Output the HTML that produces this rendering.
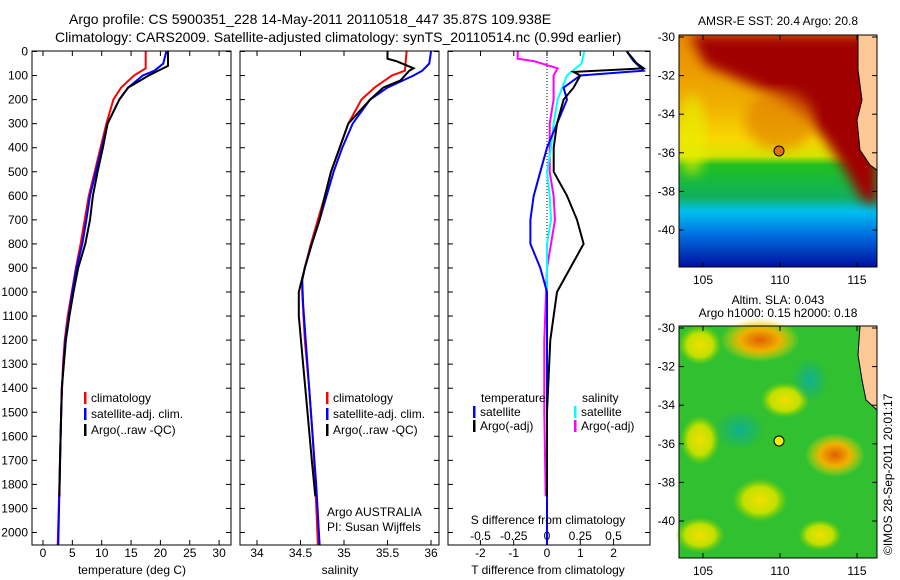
<!DOCTYPE html>
<html><head><meta charset="utf-8">
<style>
body{margin:0;background:#fff;}
svg{display:block;font-family:"Liberation Sans",sans-serif;}
</style></head>
<body>
<svg id="c" width="900" height="580" viewBox="0 0 900 580" xmlns="http://www.w3.org/2000/svg">
<defs>
<linearGradient id="sstG" x1="0" y1="0" x2="0" y2="1">
<stop offset="0" stop-color="#e88800"/><stop offset="0.3" stop-color="#f0b000"/><stop offset="0.45" stop-color="#f8d800"/>
<stop offset="0.52" stop-color="#d8e400"/><stop offset="0.56" stop-color="#20c020"/><stop offset="0.7" stop-color="#10b060"/>
<stop offset="0.76" stop-color="#00c0f0"/><stop offset="0.86" stop-color="#0070e0"/><stop offset="1" stop-color="#0010a0"/>
</linearGradient>
<radialGradient id="oG"><stop offset="0" stop-color="#e06000"/><stop offset="0.5" stop-color="#f0b000"/><stop offset="1" stop-color="#f0e000" stop-opacity="0"/></radialGradient>
<radialGradient id="yG"><stop offset="0" stop-color="#f0e000"/><stop offset="0.6" stop-color="#c0e000"/><stop offset="1" stop-color="#80d000" stop-opacity="0"/></radialGradient>
<radialGradient id="cG"><stop offset="0" stop-color="#10b090"/><stop offset="1" stop-color="#10b090" stop-opacity="0"/></radialGradient>
<filter id="bl"><feGaussianBlur stdDeviation="6"/></filter>
<clipPath id="clipTop"><rect x="679" y="35" width="198" height="232"/></clipPath>
</defs>
<g id="titles" font-size="14">
<text x="69" y="24">Argo profile: CS 5900351_228 14-May-2011 20110518_447 35.87S 109.938E</text>
<text x="55" y="42">Climatology: CARS2009. Satellite-adjusted climatology: synTS_20110514.nc (0.99d earlier)</text>
</g>
<g id="plots"></g>
<g id="maps">
<text x="778" y="25" font-size="12" text-anchor="middle">AMSR-E SST: 20.4  Argo: 20.8</text>
<g>
<rect x="679" y="35" width="198" height="232" fill="url(#sstG)"/>
<g clip-path="url(#clipTop)">
<ellipse cx="692" cy="135" rx="14" ry="40" fill="#e8f000" opacity="0.7" filter="url(#bl)"/>
<polygon points="690,35 877,35 877,205 862,200 845,170 825,140 805,115 775,95 740,80 705,65" fill="#a00000" filter="url(#bl)"/>
<ellipse cx="780" cy="120" rx="35" ry="30" fill="#e07800" opacity="0.6" filter="url(#bl)"/>
</g>
<polygon points="858,35 877,35 877,170 870,165 860,150 857,120 862,100 858,70" fill="#fcc896" stroke="#000" stroke-width="1"/>
<circle cx="779" cy="151" r="5" fill="#e07000" stroke="#000"/>
<rect x="679" y="35" width="198" height="232" fill="none" stroke="#000"/>
</g>
<text x="778" y="304" font-size="12" text-anchor="middle">Altim. SLA: 0.043</text>
<text x="778" y="317" font-size="12" text-anchor="middle">Argo h1000: 0.15 h2000: 0.18</text>
<g>
<rect x="679" y="326" width="198" height="232" fill="#30c030"/>
<ellipse cx="760" cy="340" rx="40" ry="22" fill="url(#oG)"/>
<ellipse cx="700" cy="345" rx="22" ry="20" fill="url(#yG)"/>
<ellipse cx="835" cy="455" rx="30" ry="22" fill="url(#oG)"/>
<ellipse cx="785" cy="400" rx="25" ry="18" fill="url(#yG)"/>
<ellipse cx="700" cy="440" rx="20" ry="25" fill="url(#yG)"/>
<ellipse cx="760" cy="500" rx="28" ry="22" fill="url(#yG)"/>
<ellipse cx="700" cy="535" rx="25" ry="18" fill="url(#yG)"/>
<ellipse cx="820" cy="535" rx="22" ry="16" fill="url(#yG)"/>
<ellipse cx="740" cy="430" rx="25" ry="20" fill="url(#cG)"/>
<ellipse cx="810" cy="380" rx="18" ry="22" fill="url(#cG)"/>
<polygon points="860,326 877,326 877,410 866,400 862,380 858,355" fill="#fcc896" stroke="#000"/>
<circle cx="779" cy="441" r="5" fill="#f0f000" stroke="#000"/>
<rect x="679" y="326" width="198" height="232" fill="none" stroke="#000"/>
</g>
<text transform="translate(892,555) rotate(-90)" font-size="12">©IMOS 28-Sep-2011 20:01:17</text>
</g>
</svg>
<script>
const NS='http://www.w3.org/2000/svg';
const depthTicks=[0,100,200,300,400,500,600,700,800,900,1000,1100,1200,1300,1400,1500,1600,1700,1800,1900,2000];
const tempTicks=[0,5,10,15,20,25,30];
const salTicks=[34,34.5,35,35.5,36];
const tdiffTicks=[-2,-1,0,1,2];
const sdiffTicks=[-0.5,-0.25,0,0.25,0.5];
const sdiffLabels=['-0.5','-0.25','0','0.25','0.5'];
const depthsT=[0,70,100,150,200,300,400,500,600,700,800,900,1000,1100,1200,1300,1500,1800,2050];
const tempClim=[17.5,17.5,15.5,13.3,12,10.8,9.8,8.8,7.8,7.1,6.4,5.6,4.9,4.2,3.7,3.4,3.1,2.8,2.5];
const depthsSat=[0,50,80,100,150,200,300,400,500,600,700,800,900,1000,1200,1400,1700,2050];
const tempSat=[21,20.5,19,17,14.5,13,11,10,9,8,7.4,6.7,5.7,5,3.8,3.2,2.9,2.6];
const depthsArgo=[0,60,100,150,200,300,400,500,600,700,800,900,1000,1100,1200,1400,1600,1850];
const tempArgo=[21.3,21.3,18,14.5,13,11,10.2,9.3,8.5,8,7.2,6,5.2,4.5,3.9,3.2,3,2.8];
const depthsS=[0,80,100,150,200,300,400,500,600,700,800,900,950,1000,1200,1400,1600,1800,2050];
const salClim=[35.72,35.7,35.55,35.35,35.2,35.05,34.95,34.85,34.78,34.7,34.62,34.55,34.52,34.52,34.55,34.6,34.64,34.67,34.7];
const depthsSS=[0,50,80,100,150,200,300,400,500,600,700,800,900,950,1050,1200,1500,1800,2050];
const salSat=[36,35.98,35.9,35.8,35.5,35.3,35.1,34.98,34.88,34.8,34.72,34.63,34.55,34.52,34.53,34.56,34.62,34.68,34.72];
const depthsSA=[0,30,40,70,80,120,150,200,300,400,500,600,700,800,900,1000,1100,1300,1500,1700,1850];
const salArgo=[35.5,35.5,35.6,35.8,35.75,35.65,35.45,35.3,35.05,34.95,34.85,34.78,34.72,34.63,34.55,34.48,34.48,34.53,34.58,34.63,34.67];
const depthsD1=[0,40,80,100,150,200,300,400,500,600,700,800,900,1000,1200,2050];
const tdiffSat=[2.4,2.6,2.9,1.0,0.5,0.6,0.3,0,-0.2,-0.4,-0.5,-0.5,-0.2,0,0,0];
const depthsD2=[0,50,70,85,100,150,200,300,400,500,600,700,800,900,1000,1200,1500,1850];
const tdiffArgo=[2.4,2.7,2.9,0.8,1.0,0.8,0.5,0.3,0.2,0.2,0.6,0.9,1.1,0.7,0.3,0.1,0,0];
const depthsD3=[0,50,100,200,300,400,500,600,700,800,1000,2050];
const sdiffSat=[0.28,0.26,0.15,0.08,0.05,0.03,0,0.02,0.03,0,0,0];
const depthsD4=[0,30,40,70,100,200,300,500,600,700,800,900,1200,1500,1850];
const sdiffArgo=[-0.22,-0.22,-0.1,0.08,0.05,0.05,0.02,0.02,0.05,0.06,0.03,0,-0.02,-0.02,-0.01];
const mapLat=[-30,-32,-34,-36,-38,-40];
const mapLon=[105,110,115];

const root=document.getElementById('plots');
const Y0=51,Y1=545;
const yD=d=>51.5+d*0.2405;
function mk(tag,a,parent){const e=document.createElementNS(NS,tag);for(const k in a)e.setAttribute(k,a[k]);(parent||root).appendChild(e);return e;}
function txt(x,y,s,anchor,parent){const t=mk('text',{x:x,y:y,'font-size':12,'text-anchor':anchor||'start'},parent);t.textContent=s;return t;}
function line(xs,ds,fx,col,name){
  const p=xs.map((v,i)=>fx(v).toFixed(1)+','+Math.min(yD(ds[i]),Y1).toFixed(1)).join(' ');
  const e=mk('polyline',{points:p,fill:'none',stroke:col,'stroke-width':2});
  
  
}
function panel(x0,x1,name){
  const r=mk('rect',{x:x0,y:Y0,width:x1-x0,height:Y1-Y0,fill:'none',stroke:'#000'});
  
  
  depthTicks.forEach(d=>{mk('line',{x1:x0,x2:x0+5,y1:yD(d),y2:yD(d),stroke:'#000'});mk('line',{x1:x1,x2:x1-5,y1:yD(d),y2:yD(d),stroke:'#000'});});
}
function xt(ticks,fx,labels,name,ly,top,bottom){
  ticks.forEach((t,i)=>{const x=fx(t);
    if(bottom)mk('line',{x1:x,x2:x,y1:Y1,y2:Y1-5,stroke:'#000'});
    if(top)mk('line',{x1:x,x2:x,y1:Y0,y2:Y0+5,stroke:'#000'});
    const l=txt(x,ly,labels?labels[i]:String(t),'middle');
    
    });
}
const fT=v=>43+v*5.87;
panel(32,231,'temperature-panel');
depthTicks.forEach(d=>{const l=txt(28,yD(d)+4,String(d),'end');});
xt(tempTicks,fT,null,'temperature',557,true,true);
line(tempClim,depthsT,fT,'#ff0000','temp-climatology-line');
line(tempSat,depthsSat,fT,'#0000ff','temp-satellite-line');
line(tempArgo,depthsArgo,fT,'#000','temp-argo-line');
const fS=v=>257+(v-34)*87;
panel(240,439,'salinity-panel');
xt(salTicks,fS,null,'salinity',557,true,true);
line(salClim,depthsS,fS,'#ff0000','sal-climatology-line');
line(salSat,depthsSS,fS,'#0000ff','sal-satellite-line');
line(salArgo,depthsSA,fS,'#000','sal-argo-line');
const fTD=v=>547+v*33.3, fSD=v=>547+v*133;
panel(448,650,'difference-panel');
mk('line',{x1:547,x2:547,y1:Y0,y2:Y1,stroke:'#000','stroke-dasharray':'1,2'});
xt(tdiffTicks,fTD,null,'tdiff',557,false,true);
xt(sdiffTicks,fSD,sdiffLabels,'sdiff',540,true,false);
line(sdiffArgo,depthsD4,fSD,'#ff00ff','sdiff-argo-line');
line(sdiffSat,depthsD3,fSD,'#00ffff','sdiff-satellite-line');
line(tdiffSat,depthsD1,fTD,'#0000ff','tdiff-satellite-line');
line(tdiffArgo,depthsD2,fTD,'#000','tdiff-argo-line');
[[132,'temperature (deg C)','x-axis-title-temperature'],[340,'salinity','x-axis-title-salinity'],[548,'T difference from climatology','x-axis-title-tdiff']].forEach(a=>{const l=txt(a[0],574,a[1],'middle');});
{const l=txt(548,524,'S difference from climatology','middle');}
function leg(x,y,col,label,name){mk('rect',{x:x,y:y-10,width:2.5,height:12,fill:col});const l=txt(x+7,y,label);}
[84,326].forEach(x=>{leg(x,402,'#ff0000','climatology','legend-climatology');leg(x,418,'#0000ff','satellite-adj. clim.','legend-satellite');leg(x,434,'#000','Argo(..raw -QC)','legend-argo');});
{const l=txt(327,516,'Argo AUSTRALIA');
 const m=txt(327,531,'PI: Susan Wijffels');}
{const l=txt(481,402,'temperature');
 const m=txt(582,402,'salinity');}
leg(473,416,'#0000ff','satellite','legend-t-satellite');
leg(473,430,'#000','Argo(-adj)','legend-t-argo');
leg(574,416,'#00ffff','satellite','legend-s-satellite');
leg(574,430,'#ff00ff','Argo(-adj)','legend-s-argo');
const maps=document.getElementById('maps');
[[35,267],[326,558]].forEach(b=>{
  mapLat.forEach(la=>{const y=b[0]+2+(-30-la)*19.3;mk('line',{x1:679,x2:684,y1:y,y2:y,stroke:'#000'},maps);mk('line',{x1:877,x2:872,y1:y,y2:y,stroke:'#000'},maps);const l=txt(675,y+4,String(la),'end',maps);});
  mapLon.forEach(lo=>{const x=703+(lo-105)*15.4;mk('line',{x1:x,x2:x,y1:b[1],y2:b[1]-5,stroke:'#000'},maps);mk('line',{x1:x,x2:x,y1:b[0],y2:b[0]+5,stroke:'#000'},maps);const l=txt(x,b[1]+17,String(lo),'middle',maps);});
});
</script>
</body></html>
